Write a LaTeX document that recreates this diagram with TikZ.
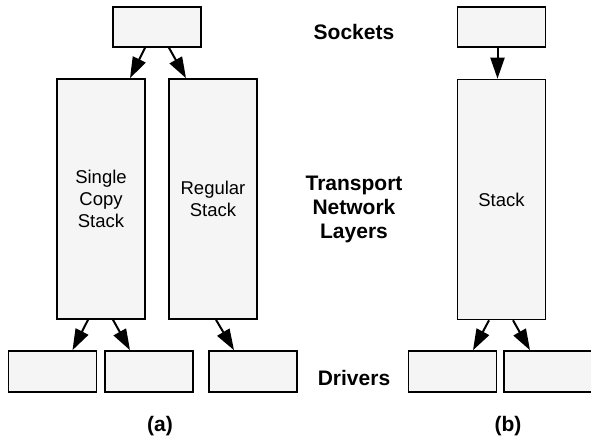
\documentclass[tikz,border=0pt]{standalone}
\usepackage{fontspec}
\setmainfont{Liberation Sans}
\usetikzlibrary{arrows.meta}

\definecolor{boxgray}{RGB}{245,245,245}

\tikzset{
  box/.style={draw, fill=boxgray, line width=1.6pt, minimum width=88pt,
              inner sep=0pt, align=center, font=\fontsize{18.5}{22}\selectfont},
  sockbox/.style={box, minimum height=40pt},
  stackbox/.style={box, minimum height=240pt},
  drvbox/.style={box, minimum height=41pt},
  layer/.style={align=center, font=\fontsize{21}{24}\selectfont\bfseries},
  flow/.style={line width=2pt, arrows={-Triangle[length=21pt,width=14pt]}}
}

\begin{document}
\begin{tikzpicture}[x=1pt, y=-1pt]
		\useasboundingbox (0,0) rectangle (591,440);
		% (a) two stacks side by side
		\node[sockbox] (sa) at (157,27) {};
		\node[stackbox] (sc) at (101,199) {Single\\Copy\\Stack};
		\node[stackbox] (rs) at (213,199) {Regular\\Stack};
		\node[drvbox] (da) at (52.5,371.5) {};
		\node[drvbox] (db) at (149,371.5) {};
		\node[drvbox] (dc) at (253,371.5) {};
		\draw[flow] ([xshift=-12pt]sa.south) -- ([xshift=29pt]sc.north);
		\draw[flow] ([xshift=12pt]sa.south) -- ([xshift=-27pt]rs.north);
		\draw[flow] ([xshift=-13pt]sc.south) -- ([xshift=20pt]da.north);
		\draw[flow] ([xshift=12pt]sc.south) -- ([xshift=-19pt]db.north);
		\draw[flow] ([xshift=3pt]rs.south) -- ([xshift=-19pt]dc.north);
		\node[layer] (capa) at (160,426) {(a)};
		% layer names in the middle
		\node[layer] (socklbl) at (354,32) {Sockets};
		\node[layer] (tnlbl) at (354,209) {Transport\\Network\\Layers};
		\node[layer] (drvlbl) at (354,378) {Drivers};
		% (b) one stack
		\node[sockbox] (sb) at (501.5,27) {};
		\node[stackbox] (st) at (501.5,199.5) {Stack};
		\node[drvbox] (dd) at (452.5,371.5) {};
		\node[drvbox] (de) at (548,371.5) {};
		\draw[flow] ([xshift=-4pt]sb.south) -- ([xshift=-4pt]st.north);
		\draw[flow] ([xshift=-12.5pt]st.south) -- ([xshift=20.5pt]dd.north);
		\draw[flow] ([xshift=11.5pt]st.south) -- ([xshift=-18pt]de.north);
		\node[layer] (capb) at (508,426) {(b)};
\end{tikzpicture}
\end{document}
